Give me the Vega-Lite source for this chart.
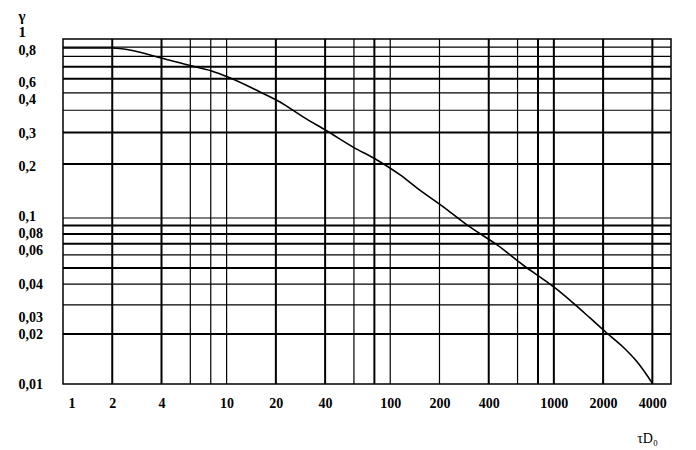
{
  "$schema": "https://vega.github.io/schema/vega-lite/v6.json",
  "width": 608,
  "height": 345,
  "autosize": {"type": "none"},
  "padding": {"left": 63, "top": 39, "right": 25, "bottom": 66},
  "background": "white",
  "config": {
    "view": {"stroke": "black", "strokeWidth": 1.5},
    "font": "Liberation Serif, DejaVu Serif, serif"
  },
  "datasets": {
    "curve": [
      {"t": 1, "g": 0.89},
      {"t": 2, "g": 0.89},
      {"t": 4.2, "g": 0.773},
      {"t": 5.8, "g": 0.716},
      {"t": 8.1, "g": 0.663},
      {"t": 10.2, "g": 0.613},
      {"t": 16, "g": 0.506},
      {"t": 21.2, "g": 0.445},
      {"t": 29.3, "g": 0.367},
      {"t": 41.1, "g": 0.306},
      {"t": 59.3, "g": 0.249},
      {"t": 83, "g": 0.211},
      {"t": 115, "g": 0.174},
      {"t": 146, "g": 0.147},
      {"t": 216, "g": 0.1137},
      {"t": 307, "g": 0.0883},
      {"t": 450, "g": 0.0688},
      {"t": 648, "g": 0.0521},
      {"t": 908, "g": 0.0412},
      {"t": 1017, "g": 0.0379},
      {"t": 1310, "g": 0.0308},
      {"t": 1663, "g": 0.025},
      {"t": 2080, "g": 0.0205},
      {"t": 2648, "g": 0.0167},
      {"t": 3226, "g": 0.0136},
      {"t": 4000, "g": 0.0101}
    ],
    "vthick": [{"t": 2}, {"t": 4}, {"t": 20}, {"t": 40}, {"t": 80}, {"t": 400}, {"t": 800}, {"t": 1000}, {"t": 2000}, {"t": 4000}],
    "vthin": [{"t": 6}, {"t": 8}, {"t": 10}, {"t": 60}, {"t": 100}, {"t": 200}, {"t": 600}],
    "hthick": [{"g": 0.7}, {"g": 0.6}, {"g": 0.3}, {"g": 0.2}, {"g": 0.09}, {"g": 0.08}, {"g": 0.07}, {"g": 0.05}, {"g": 0.02}],
    "hthin": [{"g": 0.9}, {"g": 0.8}, {"g": 0.5}, {"g": 0.4}, {"g": 0.1}, {"g": 0.06}, {"g": 0.04}, {"g": 0.03}]
  },
  "layer": [
    {
      "data": {"name": "curve"},
      "mark": {"type": "line", "color": "black", "strokeWidth": 1.6, "interpolate": "monotone"},
      "encoding": {
        "x": {
          "field": "t", "type": "quantitative",
          "scale": {"type": "log", "domain": [1, 5200], "nice": false},
          "axis": {
            "values": [1, 2, 4, 10, 20, 40, 100, 200, 400, 1000, 2000, 4000],
            "format": "d",
            "grid": false, "ticks": false, "domain": false,
            "labelPadding": 19, "labelBaseline": "middle",
            "labelFont": "Liberation Serif, DejaVu Serif, serif", "labelFontSize": 14, "labelFontWeight": "bold", "labelColor": "black",
            "labelOverlap": false, "labelFlush": true, "labelFlushOffset": -5,
            "title": "τD₀", "titleFont": "Liberation Serif, DejaVu Serif, serif", "titleFontSize": 14, "titleFontWeight": "normal", "titleColor": "black",
            "titleX": 584, "titleY": 54, "titleAlign": "center", "titleBaseline": "middle", "titleAngle": 0
          }
        },
        "y": {
          "field": "g", "type": "quantitative",
          "scale": {"type": "log", "domain": [0.01, 0.1, 1], "range": [345, 179, 0], "nice": false},
          "axis": {
            "values": [0.857, 0.568, 0.462, 0.298, 0.195, 0.1026, 0.0812, 0.0633, 0.04, 0.0253, 0.02, 0.01],
            "labelExpr": "datum.value > 0.7 ? '0,8' : datum.value > 0.5 ? '0,6' : datum.value > 0.4 ? '0,4' : datum.value > 0.25 ? '0,3' : datum.value > 0.15 ? '0,2' : datum.value > 0.09 ? '0,1' : datum.value > 0.07 ? '0,08' : datum.value > 0.05 ? '0,06' : datum.value > 0.035 ? '0,04' : datum.value > 0.0225 ? '0,03' : datum.value > 0.015 ? '0,02' : '0,01'",
            "grid": false, "ticks": false, "domain": false,
            "labelPadding": 45, "labelAlign": "left", "labelBaseline": "middle",
            "labelFont": "Liberation Serif, DejaVu Serif, serif", "labelFontSize": 14, "labelFontWeight": "bold", "labelColor": "black",
            "labelOverlap": false, "labelFlush": false,
            "title": ["γ", "1"], "titleFont": "Liberation Serif, DejaVu Serif, serif", "titleFontSize": 15, "titleFontWeight": "bold", "titleColor": "black",
            "titleAngle": 0, "titleAlign": "left", "titleBaseline": "alphabetic", "titleX": -45, "titleY": -19, "titleLineHeight": 16
          }
        }
      }
    },
    {
      "data": {"name": "vthin"},
      "mark": {"type": "rule", "color": "black", "strokeWidth": 1.2},
      "encoding": {
        "x": {"field": "t", "type": "quantitative", "scale": {"type": "log", "domain": [1, 5200], "nice": false}}
      }
    },
    {
      "data": {"name": "vthick"},
      "mark": {"type": "rule", "color": "black", "strokeWidth": 2},
      "encoding": {
        "x": {"field": "t", "type": "quantitative", "scale": {"type": "log", "domain": [1, 5200], "nice": false}}
      }
    },
    {
      "data": {"name": "hthin"},
      "mark": {"type": "rule", "color": "black", "strokeWidth": 1.2},
      "encoding": {
        "y": {"field": "g", "type": "quantitative", "scale": {"type": "log", "domain": [0.01, 0.1, 1], "range": [345, 179, 0], "nice": false}}
      }
    },
    {
      "data": {"name": "hthick"},
      "mark": {"type": "rule", "color": "black", "strokeWidth": 2},
      "encoding": {
        "y": {"field": "g", "type": "quantitative", "scale": {"type": "log", "domain": [0.01, 0.1, 1], "range": [345, 179, 0], "nice": false}}
      }
    }
  ]
}
